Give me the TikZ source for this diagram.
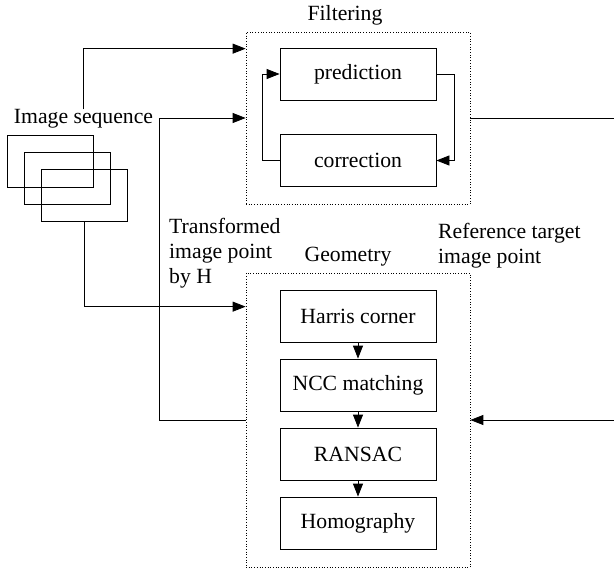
\documentclass[tikz,border=0pt]{standalone}
\usepackage{fontspec}
\setmainfont{Liberation Serif}
\usepackage{tikz}
\usetikzlibrary{arrows.meta}
\tikzstyle{step box} = [rectangle, minimum width=156pt, minimum height=52pt, text centered, draw=black, line width=0.8pt, inner sep=0pt]
\tikzstyle{stage} = [rectangle, minimum width=224pt, draw=black, dotted, line width=0.7pt]
\tikzstyle{frame} = [rectangle, minimum width=86pt, minimum height=52pt, draw=black, line width=0.8pt]
\tikzstyle{label} = [align=left, inner sep=0pt]
\tikzstyle{arrow} = [line width=0.8pt, -{Triangle[length=13pt,width=10pt]}]
\tikzstyle{line} = [line width=0.8pt]

\begin{document}
\begin{tikzpicture}[x=1pt, y=-1pt, every node/.style={font=\fontsize{21.7pt}{25pt}\selectfont}]
\useasboundingbox (0,0) rectangle (614,570);

% Nodes
\node (filt) [stage, minimum height=172pt] at (358,118) {}; % Filtering stage
\node (geom) [stage, minimum height=294pt] at (358,420) {}; % Geometry stage
\node (filtname) at (345,15) {Filtering};
\node (geomname) at (348,257) {Geometry};

\node (pred) [step box] at (358,74) {prediction};
\node (corr) [step box] at (358,160.5) {correction};

\node (harris) [step box] at (358,316) {Harris corner};
\node (ncc) [step box] at (358,385) {NCC matching};
\node (ransac) [step box] at (358,454) {RANSAC};
\node (homog) [step box] at (358,523) {Homography};

\node (seq) [inner sep=0pt] at (83.5,119) {Image sequence};
\node (img1) [frame] at (50,161) {};
\node (img2) [frame] at (67.5,178) {};
\node (img3) [frame] at (84.5,195.5) {};

\node (transf) [label, anchor=west] at (169,253) {Transformed\\image point\\by H};
\node (reftgt) [label, anchor=west] at (438,246) {Reference target\\image point};

\coordinate (outr) at (614,118);
\coordinate (inr) at (614,420);

% Arrows
\draw [arrow] (seq.north) |- ([yshift=-17pt]filt.north west);
\draw [arrow] (geom.west) -- ++(-86,0) |- (filt.west);
\draw [arrow] (img3.south) |- ([yshift=-34pt]geom.north west);
\draw [line] (filt.east) -- (outr);
\draw [arrow] (inr) -- (geom.east);

\draw [arrow] (pred.east) -- ++(18,0) |- (corr.east);
\draw [arrow] (corr.west) -- ++(-17,0) |- (pred.west);

\draw [arrow] (harris) -- (ncc);
\draw [arrow] (ncc) -- (ransac);
\draw [arrow] (ransac) -- (homog);

\end{tikzpicture}
\end{document}
